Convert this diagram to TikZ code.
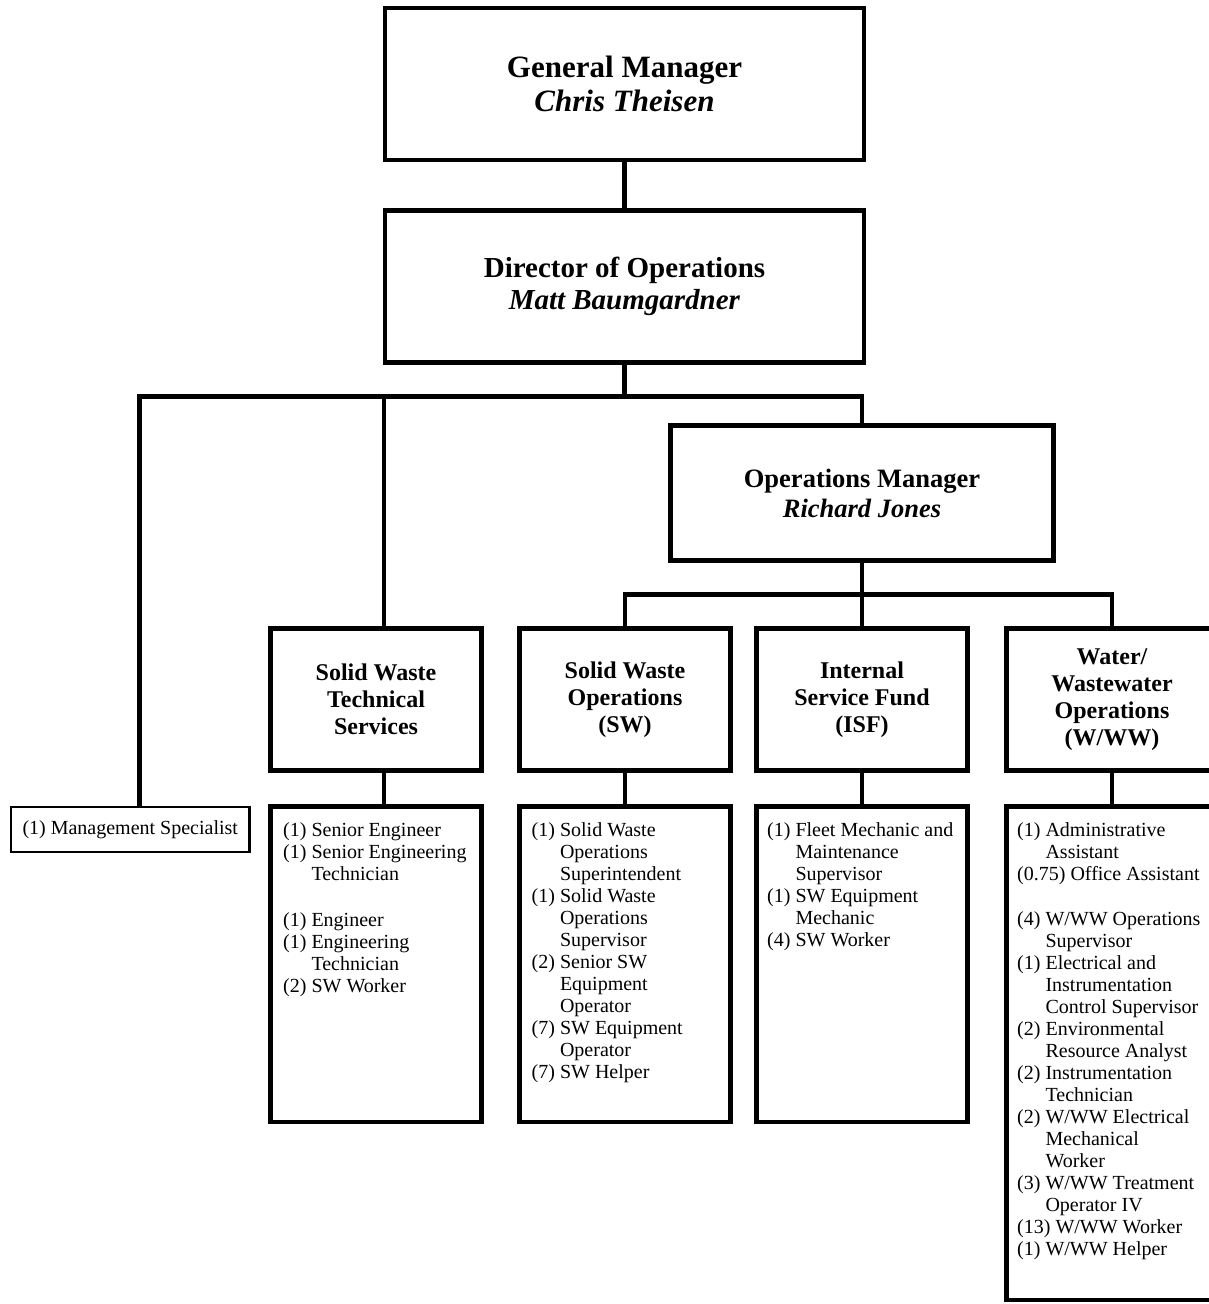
\documentclass[tikz,border=0pt]{standalone}
\usepackage{fontspec}
\setmainfont{Liberation Serif}
\usetikzlibrary{positioning}
\tikzset{
  link/.style={line width=4.5pt},
  topbox/.style={draw, line width=4.5pt, outer sep=0pt, align=center,
    minimum width=479pt, minimum height=152pt},
  unitbox/.style={draw, line width=4.5pt, outer sep=0pt, align=center,
    minimum width=211pt, minimum height=142pt,
    font=\fontsize{24}{27}\selectfont\bfseries},
  listbox/.style={draw, line width=4.5pt, outer sep=0pt, inner sep=0pt,
    minimum width=211pt},
  listtext/.style={anchor=north west, inner sep=0pt, align=left,
    font=\fontsize{20}{22}\selectfont},
}
\newcommand\hind{\hphantom{(1)\ }}

\begin{document}
\begin{tikzpicture}[x=1pt, y=-1pt]

  \useasboundingbox (0,0) rectangle (1209,1304);
  \clip (0,0) rectangle (1209,1304);

  %% managers
  \node[topbox, font=\fontsize{31}{34}\selectfont] (gm) at (624.5,84)
    {\textbf{General Manager}\\\textbf{\textit{Chris Theisen}}};
  \node[topbox, font=\fontsize{29}{32}\selectfont] (dirops) at (624.5,286.5)
    {\textbf{Director of Operations}\\\textbf{\textit{Matt Baumgardner}}};
  \node[topbox, minimum width=383pt, minimum height=135pt,
    font=\fontsize{26.5}{30}\selectfont] (opsmgr) at (862,493)
    {\textbf{Operations Manager}\\\textbf{\textit{Richard Jones}}};

  \node[draw, line width=2.5pt, outer sep=0pt, minimum width=238.5pt,
    minimum height=45pt, font=\fontsize{20}{22}\selectfont] (mgmtSpec)
    at (130.25,829.5) {(1) Management Specialist};

  %% divisions
  \node[unitbox] (swts)  at (376,699.5)  {Solid Waste\\Technical\\Services};
  \node[unitbox] (swops) at (625,699.5)  {Solid Waste\\Operations\\(SW)};
  \node[unitbox] (isf)   at (862,699.5)  {Internal\\Service Fund\\(ISF)};
  \node[unitbox] (ww)    at (1112,699.5) {Water/\\Wastewater\\Operations\\(W/WW)};

  \node[listbox, minimum height=315.5pt, below=36pt of swts]  (swtsList)  {};
  \node[listbox, minimum height=315.5pt, below=36pt of swops] (swopsList) {};
  \node[listbox, minimum height=315.5pt, below=36pt of isf]   (isfList)   {};
  \node[listbox, minimum height=493.5pt, below=36pt of ww]    (wwList)    {};

  \node[listtext] (swtsText) at ([shift={(12.5,14)}]swtsList.north west)
    {\strut(1) Senior Engineer\\(1) Senior Engineering\\\hind Technician\\[24pt]
     (1) Engineer\\(1) Engineering\\\hind Technician\\(2) SW Worker};
  \node[listtext] (swopsText) at ([shift={(12,14)}]swopsList.north west)
    {\strut(1) Solid Waste\\\hind Operations\\\hind Superintendent\\
     (1) Solid Waste\\\hind Operations\\\hind Supervisor\\
     (2) Senior SW\\\hind Equipment\\\hind Operator\\
     (7) SW Equipment\\\hind Operator\\(7) SW Helper};
  \node[listtext] (isfText) at ([shift={(10.5,14)}]isfList.north west)
    {\strut(1) Fleet Mechanic and\\\hind Maintenance\\\hind Supervisor\\
     (1) SW Equipment\\\hind Mechanic\\(4) SW Worker};
  \node[listtext] (wwText) at ([shift={(10.5,14)}]wwList.north west)
    {\strut(1) Administrative\\\hind Assistant\\(0.75) Office Assistant\\[23pt]
     (4) W/WW Operations\\\hind Supervisor\\
     (1) Electrical and\\\hind Instrumentation\\\hind Control Supervisor\\
     (2) Environmental\\\hind Resource Analyst\\
     (2) Instrumentation\\\hind Technician\\
     (2) W/WW Electrical\\\hind Mechanical\\\hind Worker\\
     (3) W/WW Treatment\\\hind Operator IV\\
     (13) W/WW Worker\\(1) W/WW Helper};

  %% connectors
  \draw[link] (gm) -- (dirops);
  \draw[link] (dirops.south) -- ++(0,34) coordinate (bus);
  \draw[link] ([xshift=9pt]mgmtSpec.north) |- (bus) -| (opsmgr.north);
  \coordinate (swtsLine) at ([xshift=8pt]swts.north);
  \draw[link] (swtsLine) -- (swtsLine |- bus);
  \draw[link] (swtsLine |- swts.south) -- (swtsLine |- swtsList.north);

  \draw[link] (opsmgr.south) -- ++(0,34) coordinate (bus2);
  \draw[link] (swops.north) |- (bus2) -| (ww.north);
  \draw[link] (bus2) -- (isf.north);
  \draw[link] (swops) -- (swopsList);
  \draw[link] (isf) -- (isfList);
  \draw[link] (ww) -- (wwList);

\end{tikzpicture}
\end{document}
